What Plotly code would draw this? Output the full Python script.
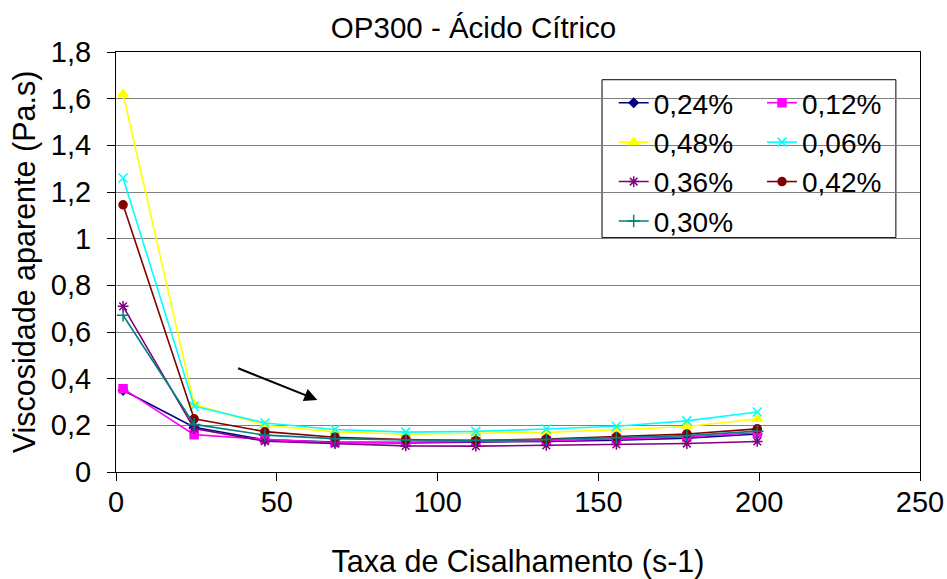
import plotly.graph_objects as go

# ---- data ----
shear_rate = [2.2, 24.3, 46.3, 68.1, 90.1, 111.9, 133.8, 155.6, 177.5, 199.4]

series_names = ["0,24%", "0,12%", "0,48%", "0,06%", "0,36%", "0,42%", "0,30%"]
v024 = [0.350, 0.192, 0.138, 0.128, 0.125, 0.127, 0.131, 0.136, 0.145, 0.163]
v012 = [0.357, 0.160, 0.140, 0.126, 0.128, 0.130, 0.134, 0.142, 0.150, 0.168]
v048 = [1.620, 0.290, 0.200, 0.172, 0.162, 0.165, 0.170, 0.181, 0.195, 0.227]
v006 = [1.260, 0.282, 0.210, 0.182, 0.171, 0.174, 0.184, 0.196, 0.219, 0.257]
v036 = [0.710, 0.186, 0.132, 0.122, 0.112, 0.111, 0.114, 0.118, 0.122, 0.131]
v042 = [1.145, 0.228, 0.173, 0.149, 0.139, 0.135, 0.141, 0.151, 0.163, 0.185]
v030 = [0.672, 0.204, 0.158, 0.143, 0.137, 0.136, 0.139, 0.147, 0.156, 0.175]

y_ticks = [0, 0.2, 0.4, 0.6, 0.8, 1.0, 1.2, 1.4, 1.6, 1.8]
y_tick_labels = ["0", "0,2", "0,4", "0,6", "0,8", "1", "1,2", "1,4", "1,6", "1,8"]
x_ticks = [0, 50, 100, 150, 200, 250]

FONT = "Liberation Sans, Arial, sans-serif"

styles = [
    # values, color, symbol, size, legend
    (v024, "#000080", "diamond", 7, "legend"),
    (v012, "#FF00FF", "square", 8, "legend2"),
    (v048, "#FFFF00", "triangle-up", 9, "legend"),
    (v006, "#00FFFF", "x-thin", 9, "legend2"),
    (v036, "#800080", "asterisk", 9, "legend"),
    (v042, "#800000", "circle", 8, "legend2"),
    (v030, "#008080", "cross-thin", 9, "legend"),
]

fig = go.Figure()
for name, (vals, color, sym, size, leg) in zip(series_names, styles):
    fig.add_trace(go.Scatter(
        x=shear_rate, y=vals, name=name, mode="lines+markers",
        line=dict(color=color, width=1.6),
        marker=dict(symbol=sym, size=size, color=color,
                    line=dict(color=color, width=1.5)),
        legend=leg,
    ))

fig.add_annotation(
    x=62.6, y=0.309, ax=37.5, ay=0.447, xref="x", yref="y", axref="x", ayref="y",
    text="", showarrow=True, arrowhead=2, arrowsize=1.3, arrowwidth=2, arrowcolor="black",
)

# legend frame
fig.add_shape(type="rect", xref="paper", yref="paper",
              x0=0.6045, x1=0.970, y0=0.558, y1=0.934,
              line=dict(color="black", width=1), fillcolor="white", layer="between")

legend_common = dict(font=dict(family=FONT, size=28, color="black"),
                     bgcolor="rgba(0,0,0,0)", borderwidth=0,
                     xanchor="left", yanchor="top", orientation="v",
                     itemclick=False, itemdoubleclick=False)

fig.update_layout(
    width=947, height=579,
    margin=dict(l=116, r=27, t=52, b=107, autoexpand=False),
    paper_bgcolor="white", plot_bgcolor="white",
    font=dict(family=FONT, color="black", size=29),
    title=dict(text="OP300 - Ácido Cítrico", x=0.5, xanchor="center",
               y=1 - 28 / 579, yanchor="middle", yref="container",
               font=dict(family=FONT, size=29.5, color="black")),
    showlegend=True,
    legend=dict(x=0.619, y=0.938, **legend_common),
    legend2=dict(x=0.8035, y=0.938, **legend_common),
    xaxis=dict(range=[0, 250], tickvals=x_ticks, showgrid=False, automargin=False,
               showline=True, linecolor="black", linewidth=1, mirror=True,
               ticks="outside", ticklen=8, tickcolor="black",
               tickfont=dict(family=FONT, size=29), ticklabelstandoff=-4,
               zeroline=False,
               title=dict(text="Taxa de Cisalhamento (s-1)", standoff=37,
                          font=dict(family=FONT, size=30.5))),
    yaxis=dict(range=[0, 1.8], tickvals=y_ticks, ticktext=y_tick_labels,
               showgrid=True, gridcolor="#808080", gridwidth=1, automargin=False,
               showline=True, linecolor="black", linewidth=1, mirror=True,
               ticks="outside", ticklen=8, tickcolor="black",
               tickfont=dict(family=FONT, size=29), ticklabelstandoff=10,
               zeroline=False,
               title=dict(text="Viscosidade aparente (Pa.s)", standoff=6,
                          font=dict(family=FONT, size=30.5))),
)

fig.write_html("out.html")
